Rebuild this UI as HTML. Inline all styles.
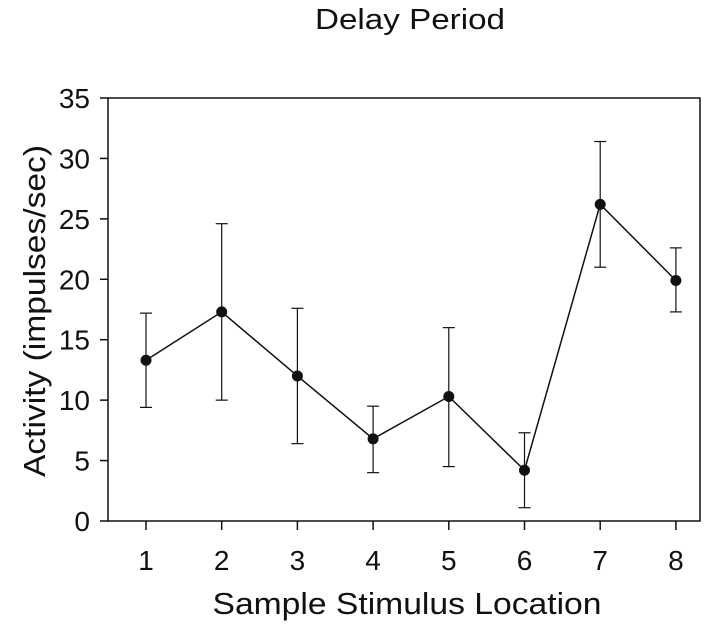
<!DOCTYPE html>
<html><head><meta charset="utf-8"><style>
html,body{margin:0;padding:0;background:#fff;}
svg text{font-family:"Liberation Sans",sans-serif;fill:#111;}
</style></head><body>
<svg id="chart" width="720" height="632" viewBox="0 0 720 632" xmlns="http://www.w3.org/2000/svg">
<text x="410" y="29" font-size="29" text-anchor="middle" textLength="190" lengthAdjust="spacingAndGlyphs">Delay Period</text>
<rect x="108" y="98" width="592" height="423" fill="none" stroke="#111" stroke-width="1.5"/>
<g id="yaxis"></g>
<g id="xaxis"></g>
<g id="marks"></g>
<text x="407" y="614" font-size="31" text-anchor="middle" textLength="389" lengthAdjust="spacingAndGlyphs">Sample Stimulus Location</text>
<text transform="translate(45,311) rotate(-90)" font-size="31" text-anchor="middle" textLength="332" lengthAdjust="spacingAndGlyphs">Activity (impulses/sec)</text>
</svg>
<script>
const categories = [1,2,3,4,5,6,7,8];
const means = [13.3,17.3,12.0,6.8,10.3,4.2,26.2,19.9];
const errLow = [9.4,10.0,6.4,4.0,4.5,1.1,21.0,17.3];
const errHigh = [17.2,24.6,17.6,9.5,16.0,7.3,31.4,22.6];
const yTicks = [0,5,10,15,20,25,30,35];

const NS="http://www.w3.org/2000/svg";
function yScale(v){return 521-(v/35)*423;}
function xScale(c){return 146+(c-1)*75.7;}
function mk(tag,attrs,parent){const e=document.createElementNS(NS,tag);for(const k in attrs)e.setAttribute(k,attrs[k]);parent.appendChild(e);return e;}
const ya=document.getElementById('yaxis'),xa=document.getElementById('xaxis'),m=document.getElementById('marks');
yTicks.forEach(t=>{
  const l=mk('line',{x1:100,x2:108,y1:yScale(t),y2:yScale(t),stroke:'#111','stroke-width':1.5},ya);
  
  
  const tx=mk('text',{x:90,y:yScale(t)+10,'font-size':28,'text-anchor':'end'},ya);
  tx.textContent=t;
  
  
});
categories.forEach(c=>{
  const l=mk('line',{x1:xScale(c),x2:xScale(c),y1:521,y2:530,stroke:'#111','stroke-width':1.5},xa);
  
  
  const tx=mk('text',{x:xScale(c),y:570,'font-size':28,'text-anchor':'middle'},xa);
  tx.textContent=c;
  
  
});
categories.forEach((c,i)=>{
  const x=xScale(c);
  const g=mk('g',{},m);
  
  
  mk('line',{x1:x,x2:x,y1:yScale(errLow[i]),y2:yScale(errHigh[i]),stroke:'#111','stroke-width':1.2},g);
  mk('line',{x1:x-6,x2:x+6,y1:yScale(errLow[i]),y2:yScale(errLow[i]),stroke:'#111','stroke-width':1.2},g);
  mk('line',{x1:x-6,x2:x+6,y1:yScale(errHigh[i]),y2:yScale(errHigh[i]),stroke:'#111','stroke-width':1.2},g);
});
const pl=mk('polyline',{points:categories.map((c,i)=>xScale(c)+','+yScale(means[i])).join(' '),fill:'none',stroke:'#111','stroke-width':1.5},m);


categories.forEach((c,i)=>{
  const p=mk('circle',{cx:xScale(c),cy:yScale(means[i]),r:5.5,fill:'#111'},m);
  
  
});
</script>
</body></html>
